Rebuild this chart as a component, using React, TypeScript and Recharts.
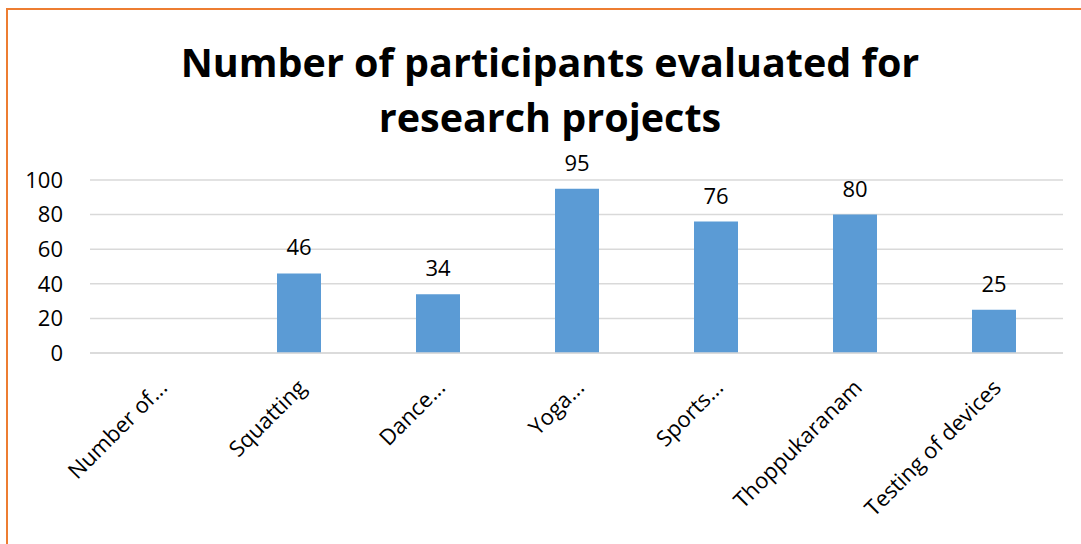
import React from "react";
import { BarChart, Bar, XAxis, YAxis, CartesianGrid, LabelList } from "recharts";

const categories = [
  "Number of...",
  "Squatting",
  "Dance...",
  "Yoga...",
  "Sports...",
  "Thoppukaranam",
  "Testing of devices",
];
const participants: (number | null)[] = [null, 46, 34, 95, 76, 80, 25];
const yTicks = [0, 20, 40, 60, 80, 100];
const titleLines = ["Number of participants evaluated for", "research projects"];

const data = categories.map((c, i) => ({ name: c, value: participants[i] }));

const FONT = "'Open Sans', sans-serif";

const XTick = (props: any) => {
  const { x, y, payload } = props;
  return (
    <g transform={`translate(${x + 9},${y + 28})`}>
      <text
        x={0}
        y={0}
        textAnchor="end"
        transform="rotate(-45)"
        fontFamily={FONT}
        fontSize={22}
        fill="#000"
      >
        {payload.value}
      </text>
    </g>
  );
};

export default function App() {
  return (
    <div style={{ position: "absolute", left: 0, top: 0, width: 1081, height: 544, background: "#fff", overflow: "hidden" }}>
      <div
        style={{
          position: "absolute",
          left: 6,
          top: 8,
          width: 1090,
          height: 560,
          border: "2px solid #ED7D31",
          boxSizing: "border-box",
        }}
      />
      <svg width={1081} height={150} style={{ position: "absolute", left: 0, top: 0 }}>
        <text x={550} y={77} textAnchor="middle" fontFamily={FONT} fontWeight={700} fontSize={39.5} fill="#000">
          {titleLines[0]}
        </text>
        <text x={550} y={132} textAnchor="middle" fontFamily={FONT} fontWeight={700} fontSize={39.5} fill="#000">
          {titleLines[1]}
        </text>
      </svg>
      <div style={{ position: "absolute", left: 0, top: 0 }}>
        <BarChart
          width={1081}
          height={544}
          data={data}
          margin={{ top: 180, right: 18, bottom: 10, left: 30 }}
        >
          <CartesianGrid vertical={false} stroke="#D9D9D9" strokeWidth={1.5} />
          <XAxis
            dataKey="name"
            height={181}
            axisLine={{ stroke: "#D9D9D9", strokeWidth: 1.5 }}
            tickLine={false}
            interval={0}
            tick={<XTick />}
          />
          <YAxis
            width={60}
            domain={[0, 100]}
            ticks={yTicks}
            interval={0}
            axisLine={false}
            tickLine={false}
            tickSize={6}
            tickMargin={21}
            tick={{ fontFamily: FONT, fontSize: 22, fill: "#000" }}
          />
          <Bar dataKey="value" fill="#5B9BD5" barSize={44} isAnimationActive={false}>
            <LabelList
              dataKey="value"
              position="top"
              offset={18}
              style={{ fontFamily: FONT, fontSize: 22, fill: "#000" }}
            />
          </Bar>
        </BarChart>
      </div>
    </div>
  );
}
